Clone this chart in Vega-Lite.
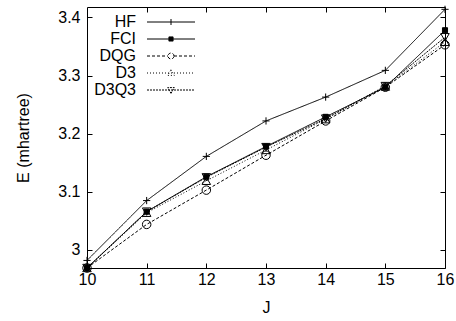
{
  "$schema": "https://vega.github.io/schema/vega-lite/v6.json",
  "autosize": "none",
  "width": 358,
  "height": 261,
  "padding": {"left": 87, "top": 7, "right": 11, "bottom": 53},
  "background": "white",
  "config": {
    "font": "Liberation Sans",
    "view": {"stroke": "black", "strokeWidth": 1},
    "axis": {
      "grid": false,
      "domain": false,
      "labelFlush": false,
      "tickColor": "black",
      "tickSize": -5,
      "labelFont": "Liberation Sans",
      "labelFontSize": 16,
      "labelColor": "black",
      "titleFont": "Liberation Sans",
      "titleFontSize": 16,
      "titleFontWeight": "normal",
      "titleColor": "black"
    },
    "legend": {
      "labelFont": "Liberation Sans",
      "labelFontSize": 16,
      "labelColor": "black"
    }
  },
  "resolve": {"scale": {"shape": "independent", "fill": "independent", "strokeDash": "independent", "stroke": "independent"}},
  "data": {
    "values": [
      {"J": 10, "method": "HF", "E": 2.982},
      {"J": 11, "method": "HF", "E": 3.085},
      {"J": 12, "method": "HF", "E": 3.161},
      {"J": 13, "method": "HF", "E": 3.222},
      {"J": 14, "method": "HF", "E": 3.263},
      {"J": 15, "method": "HF", "E": 3.309},
      {"J": 16, "method": "HF", "E": 3.414},
      {"J": 10, "method": "FCI", "E": 2.969},
      {"J": 11, "method": "FCI", "E": 3.066},
      {"J": 12, "method": "FCI", "E": 3.126},
      {"J": 13, "method": "FCI", "E": 3.178},
      {"J": 14, "method": "FCI", "E": 3.229},
      {"J": 15, "method": "FCI", "E": 3.280},
      {"J": 16, "method": "FCI", "E": 3.378},
      {"J": 10, "method": "DQG", "E": 2.969},
      {"J": 11, "method": "DQG", "E": 3.044},
      {"J": 12, "method": "DQG", "E": 3.103},
      {"J": 13, "method": "DQG", "E": 3.163},
      {"J": 14, "method": "DQG", "E": 3.222},
      {"J": 15, "method": "DQG", "E": 3.280},
      {"J": 16, "method": "DQG", "E": 3.353},
      {"J": 10, "method": "D3", "E": 2.969},
      {"J": 11, "method": "D3", "E": 3.064},
      {"J": 12, "method": "D3", "E": 3.119},
      {"J": 13, "method": "D3", "E": 3.172},
      {"J": 14, "method": "D3", "E": 3.225},
      {"J": 15, "method": "D3", "E": 3.281},
      {"J": 16, "method": "D3", "E": 3.358},
      {"J": 10, "method": "D3Q3", "E": 2.969},
      {"J": 11, "method": "D3Q3", "E": 3.066},
      {"J": 12, "method": "D3Q3", "E": 3.125},
      {"J": 13, "method": "D3Q3", "E": 3.177},
      {"J": 14, "method": "D3Q3", "E": 3.226},
      {"J": 15, "method": "D3Q3", "E": 3.282},
      {"J": 16, "method": "D3Q3", "E": 3.366}
    ]
  },
  "layer": [
    {
      "mark": {"type": "line", "color": "black", "strokeWidth": 1},
      "encoding": {
        "x": {"field": "J", "type": "quantitative",
              "scale": {"domain": [10, 16], "nice": false, "zero": false},
              "axis": {"orient": "bottom", "values": [10, 11, 12, 13, 14, 15, 16], "title": "J", "labelPadding": 8, "titlePadding": 12}},
        "y": {"field": "E", "type": "quantitative",
              "scale": {"domain": [2.969, 3.418], "nice": false, "zero": false},
              "axis": {"orient": "left", "values": [3, 3.1, 3.2, 3.3, 3.4], "format": ".1~f", "title": "E (mhartree)", "labelPadding": 12, "titlePadding": 26}},
        "strokeDash": {"field": "method", "type": "nominal",
              "scale": {"domain": ["D3Q3", "HF", "FCI", "DQG", "D3"], "range": [[2, 1], [1, 0], [1, 0], [3, 2], [1, 2]]},
              "legend": null}
      }
    },
    {
      "mark": {"type": "point", "stroke": "black", "strokeWidth": 1, "size": 72, "opacity": 1},
      "encoding": {
        "x": {"field": "J", "type": "quantitative",
              "axis": {"orient": "top", "values": [11, 12, 13, 14, 15], "labels": false, "title": null}},
        "y": {"field": "E", "type": "quantitative",
              "axis": {"orient": "right", "values": [3, 3.1, 3.2, 3.3, 3.4], "labels": false, "title": null}},
        "shape": {"field": "method", "type": "nominal",
              "scale": {"domain": ["HF", "DQG", "FCI", "D3", "D3Q3"],
                        "range": ["M-0.85,0L0.85,0M0,-0.85L0,0.85", "circle", "M-0.6,-0.6L0.6,-0.6L0.6,0.6L-0.6,0.6Z", "triangle-up", "triangle-down"]},
              "legend": null},
        "fill": {"field": "method", "type": "nominal",
              "scale": {"domain": ["FCI", "HF", "DQG", "D3", "D3Q3"],
                        "range": ["black", "transparent", "transparent", "transparent", "transparent"]},
              "legend": null}
      }
    },
    {
      "mark": {"type": "point", "filled": false, "strokeWidth": 1, "opacity": 0},
      "encoding": {
        "x": {"field": "J", "type": "quantitative", "axis": null},
        "y": {"field": "E", "type": "quantitative", "axis": null},
        "shape": {"field": "method", "type": "nominal",
              "scale": {"domain": ["HF", "FCI", "DQG", "D3", "D3Q3"],
                        "range": ["M-8,0L8,0M0,-1L0,1", "M-8,0L8,0M-0.7,-0.7L0.7,-0.7L0.7,0.7L-0.7,0.7Z", "M-8,0L-1,0M1,0L8,0M1,0A1,1,0,1,0,-1,0A1,1,0,1,0,1,0", "M-8,0L8,0M0,-1.1L1.1,0.8L-1.1,0.8Z", "M-8,0L8,0M0,1.1L1.1,-0.8L-1.1,-0.8Z"]},
              "legend": {"orient": "none", "legendX": 76, "legendY": 7, "title": null,
                         "symbolSize": 36, "rowPadding": 1,
                         "symbolOpacity": 1, "symbolStrokeWidth": 1,
                         "labelAlign": "right", "labelOffset": -43}},
        "strokeDash": {"field": "method", "type": "nominal",
              "scale": {"domain": ["HF", "FCI", "DQG", "D3", "D3Q3"], "range": [[1, 0], [1, 0], [3, 2], [1, 2], [2, 1]]},
              "legend": {"orient": "none", "legendX": 76, "legendY": 7, "title": null,
                         "symbolSize": 36, "rowPadding": 1,
                         "symbolOpacity": 1, "symbolStrokeWidth": 1,
                         "labelAlign": "right", "labelOffset": -43}},
        "stroke": {"field": "method", "type": "nominal",
              "scale": {"domain": ["HF", "FCI", "DQG", "D3", "D3Q3"], "range": ["black", "black", "black", "black", "black"]},
              "legend": {"orient": "none", "legendX": 76, "legendY": 7, "title": null,
                         "symbolSize": 36, "rowPadding": 1,
                         "symbolOpacity": 1, "symbolStrokeWidth": 1,
                         "labelAlign": "right", "labelOffset": -43}},
        "fill": {"field": "method", "type": "nominal",
              "scale": {"domain": ["HF", "FCI", "DQG", "D3", "D3Q3"],
                        "range": ["transparent", "black", "transparent", "transparent", "transparent"]},
              "legend": {"orient": "none", "legendX": 76, "legendY": 7, "title": null,
                         "symbolSize": 36, "rowPadding": 1,
                         "symbolOpacity": 1, "symbolStrokeWidth": 1,
                         "labelAlign": "right", "labelOffset": -43}}
      }
    }
  ]
}
